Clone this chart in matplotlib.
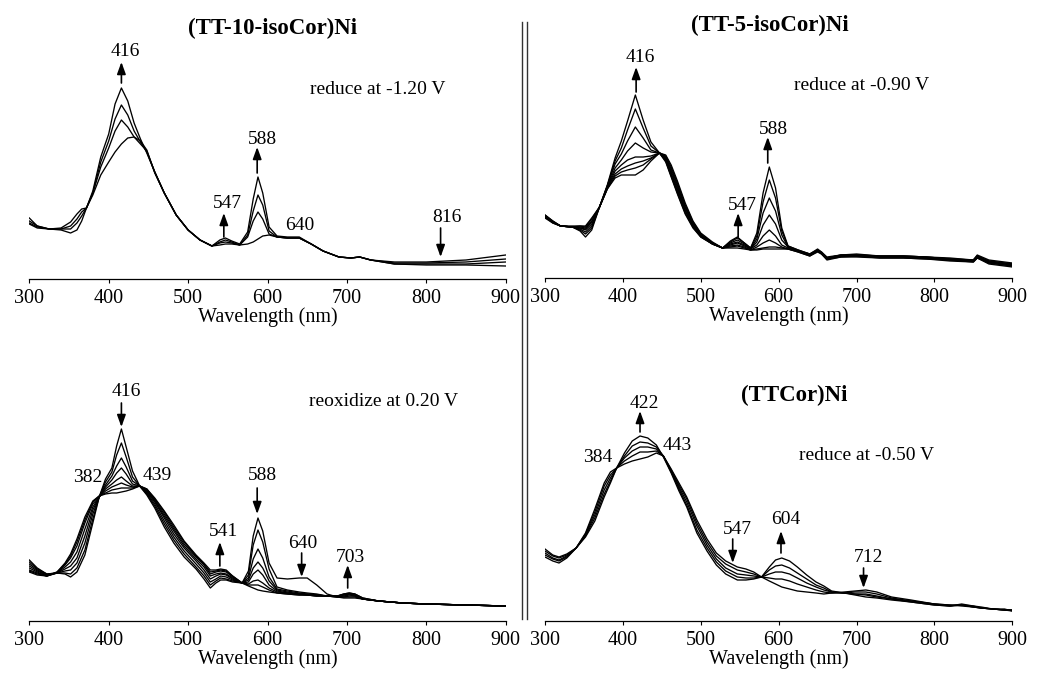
"""
Spektroelektrochemie der Ni-Corrole: UV-Vis-Spektren waehrend Reduktion/Reoxidation.
"""
import matplotlib
matplotlib.use("Agg")
import matplotlib.pyplot as plt
from matplotlib.lines import Line2D

plt.rcParams["font.family"] = ["Liberation Serif", "DejaVu Serif"]

# ── Daten (Absorption in willkuerlichen Einheiten) ───────────────────────────
wl_10iso = [300, 310, 325, 340, 352, 360, 366, 372, 380, 390, 400, 408, 416, 424, 432,
            440, 448, 458, 470, 485, 500, 515, 530, 540, 547, 555, 565, 575, 582, 588,
            594, 602, 612, 625, 640, 655, 670, 690, 705, 716, 730, 760, 800, 850, 900]
abs_10iso = [
    [58, 53, 50, 49, 46, 49, 58, 71, 84, 104, 117, 127, 135, 141, 142,
     138, 129, 106, 86, 64, 49, 39, 33, 34, 35, 35, 34, 35, 37, 40,
     43, 44, 42, 41, 41, 35, 28, 22, 21, 22, 19, 17, 17, 19, 24],
    [56, 52, 50, 50, 50, 56, 63, 71, 86, 112, 131, 148, 159, 152, 142,
     135, 128, 107, 86, 64, 49, 39, 33, 36, 37, 36, 34, 42, 58, 67,
     60, 45, 42, 41, 41, 35, 28, 22, 21, 22, 19, 16, 16, 17, 20],
    [55, 51, 50, 50, 53, 60, 67, 71, 86, 117, 138, 160, 174, 164, 148,
     137, 127, 107, 86, 64, 49, 39, 33, 37, 39, 37, 34, 44, 68, 84,
     74, 48, 42, 41, 41, 35, 28, 22, 21, 22, 19, 15, 15, 15, 17],
    [61, 53, 50, 51, 57, 65, 70, 71, 88, 122, 145, 175, 191, 178, 156,
     140, 126, 107, 86, 64, 49, 39, 33, 39, 41, 38, 35, 47, 80, 102,
     86, 52, 43, 42, 42, 35, 28, 22, 21, 22, 19, 15, 14, 14, 13],
]

wl_5iso = [300, 310, 320, 335, 345, 352, 360, 370, 380, 390, 398, 406, 416, 426, 436,
           447, 455, 462, 470, 480, 490, 500, 515, 528, 538, 547, 556, 564, 572, 580,
           588, 596, 604, 612, 625, 640, 650, 655, 662, 680, 700, 730, 760, 790, 820,
           850, 855, 870, 900]
abs_5iso = [
    [63, 57, 52, 51, 47, 41, 48, 71, 89, 100, 103, 103, 103, 108, 117,
     125, 123, 113, 97, 75, 57, 45, 36, 30, 30, 30, 29, 28, 28, 29,
     29, 29, 29, 29, 26, 22, 26, 24, 18, 21, 21, 20, 20, 19, 17,
     16, 20, 14, 11],
    [63, 57, 52, 51, 48, 44, 50, 71, 89, 102, 106, 108, 110, 113, 119,
     125, 122, 111, 95, 73, 56, 44, 35, 30, 31, 32, 30, 28, 29, 30,
     31, 31, 30, 29, 26, 22, 27, 24, 19, 21, 22, 20, 20, 19, 18,
     16, 20, 15, 12],
    [62, 56, 52, 51, 49, 46, 52, 71, 90, 104, 109, 112, 115, 117, 120,
     125, 121, 109, 93, 71, 55, 43, 35, 30, 32, 33, 31, 28, 31, 35,
     38, 35, 31, 29, 27, 23, 27, 25, 19, 22, 22, 21, 21, 20, 18,
     17, 21, 15, 12],
    [62, 56, 52, 51, 50, 48, 54, 71, 90, 107, 113, 118, 121, 121, 122,
     125, 120, 107, 91, 70, 54, 43, 35, 30, 33, 35, 32, 29, 33, 42,
     48, 42, 33, 30, 27, 23, 27, 25, 19, 22, 22, 21, 21, 20, 18,
     17, 21, 16, 13],
    [62, 56, 52, 51, 50, 49, 56, 71, 91, 110, 118, 127, 135, 130, 126,
     125, 119, 105, 89, 68, 53, 42, 34, 30, 34, 36, 33, 29, 36, 53,
     63, 54, 38, 31, 27, 23, 28, 25, 20, 22, 23, 21, 21, 20, 19,
     17, 22, 16, 13],
    [61, 56, 52, 51, 51, 50, 57, 71, 92, 114, 124, 137, 151, 140, 128,
     125, 118, 103, 87, 67, 52, 42, 34, 30, 35, 38, 34, 29, 39, 65,
     80, 67, 43, 31, 27, 24, 28, 25, 20, 23, 23, 22, 22, 21, 19,
     18, 22, 17, 14],
    [61, 55, 52, 51, 52, 51, 59, 71, 92, 117, 130, 148, 169, 150, 132,
     125, 117, 102, 85, 65, 51, 41, 34, 30, 36, 40, 35, 30, 42, 76,
     98, 80, 47, 32, 28, 24, 28, 26, 20, 23, 23, 22, 22, 21, 19,
     18, 22, 17, 14],
    [60, 55, 52, 52, 52, 52, 60, 71, 93, 120, 137, 157, 183, 158, 136,
     125, 116, 101, 84, 64, 50, 41, 34, 30, 37, 41, 35, 30, 45, 85,
     111, 90, 50, 32, 28, 24, 29, 26, 21, 23, 24, 22, 22, 21, 20,
     18, 23, 18, 15],
]

wl_reox = [300, 310, 322, 335, 345, 352, 360, 370, 380, 388, 396, 404, 410, 416, 422,
           430, 439, 448, 458, 470, 482, 495, 510, 520, 528, 535, 541, 548, 556, 568,
           576, 582, 588, 594, 602, 612, 625, 640, 650, 662, 675, 688, 696, 703, 710,
           720, 740, 770, 800, 850, 900]
abs_reox = [
    [61, 53, 47, 48, 47, 44, 49, 66, 98, 124, 142, 153, 175, 192, 174,
     150, 135, 126, 113, 94, 78, 64, 52, 42, 33, 38, 41, 41, 39, 38,
     50, 85, 103, 90, 58, 43, 42, 43, 43, 36, 27, 24, 23, 23, 23,
     22, 20, 18, 17, 16, 15],
    [59, 52, 47, 48, 48, 47, 53, 71, 102, 124, 139, 149, 166, 178, 164,
     144, 135, 127, 115, 97, 81, 67, 54, 45, 36, 40, 43, 42, 40, 38,
     46, 76, 91, 79, 52, 34, 31, 29, 28, 27, 25, 24, 24, 24, 24,
     22, 20, 18, 17, 16, 15],
    [57, 51, 46, 48, 50, 51, 58, 78, 107, 124, 136, 145, 155, 163, 154,
     140, 135, 128, 117, 100, 84, 70, 57, 48, 39, 42, 45, 44, 41, 38,
     43, 62, 72, 63, 44, 32, 30, 28, 27, 26, 25, 24, 24, 25, 25,
     22, 20, 18, 17, 16, 15],
    [55, 50, 46, 48, 52, 55, 63, 85, 111, 124, 134, 141, 148, 153, 147,
     137, 135, 129, 119, 103, 87, 73, 60, 51, 42, 45, 47, 46, 42, 38,
     41, 53, 59, 53, 40, 31, 29, 27, 27, 26, 25, 24, 25, 26, 25,
     22, 20, 18, 17, 16, 15],
    [53, 49, 45, 48, 54, 59, 69, 92, 114, 124, 132, 137, 141, 144, 140,
     135, 135, 130, 120, 105, 90, 75, 62, 54, 45, 47, 48, 47, 43, 38,
     39, 47, 51, 46, 36, 30, 28, 27, 26, 26, 25, 25, 26, 27, 26,
     22, 20, 18, 17, 16, 15],
    [51, 48, 45, 48, 56, 63, 75, 98, 117, 124, 130, 134, 136, 138, 136,
     134, 135, 131, 121, 107, 92, 77, 64, 56, 47, 49, 50, 49, 44, 38,
     37, 40, 41, 38, 33, 29, 28, 27, 26, 25, 25, 25, 26, 27, 26,
     22, 20, 18, 17, 16, 15],
    [50, 47, 45, 49, 57, 65, 79, 101, 119, 125, 128, 131, 132, 133, 133,
     133, 135, 132, 122, 109, 94, 79, 65, 57, 49, 50, 51, 50, 45, 38,
     36, 36, 36, 34, 31, 28, 27, 26, 26, 25, 25, 25, 27, 28, 27,
     23, 20, 18, 17, 16, 15],
    [49, 46, 45, 49, 58, 67, 82, 104, 120, 125, 127, 128, 128, 129, 130,
     132, 135, 132, 123, 110, 96, 80, 66, 58, 51, 51, 52, 51, 45, 38,
     35, 33, 31, 30, 29, 28, 27, 26, 26, 25, 25, 25, 27, 28, 27,
     23, 20, 18, 17, 16, 15],
]

wl_ttcor = [300, 310, 318, 328, 340, 352, 364, 376, 384, 392, 402, 412, 422, 432, 443,
            452, 462, 472, 482, 495, 508, 520, 532, 547, 558, 568, 578, 588, 596, 604,
            614, 624, 636, 648, 658, 668, 684, 698, 712, 726, 745, 770, 800, 820, 835,
            850, 860, 875, 890, 900]
abs_ttcor = [
    [64, 60, 58, 63, 73, 88, 112, 138, 149, 153, 157, 160, 162, 164, 168,
     165, 152, 138, 124, 101, 82, 68, 60, 54, 52, 49, 44, 40, 37, 34,
     32, 30, 29, 28, 27, 28, 29, 30, 31, 29, 24, 21, 17, 16, 15,
     14, 13, 12, 11, 11],
    [66, 62, 60, 64, 73, 87, 109, 135, 146, 153, 160, 165, 169, 169, 170,
     165, 151, 136, 122, 98, 79, 65, 57, 51, 49, 47, 44, 43, 42, 42,
     40, 37, 34, 31, 29, 28, 28, 29, 29, 27, 23, 20, 17, 16, 16,
     14, 13, 12, 11, 11],
    [68, 63, 61, 65, 73, 86, 106, 131, 143, 153, 163, 170, 174, 174, 172,
     165, 150, 134, 119, 95, 76, 62, 53, 47, 46, 45, 44, 47, 49, 49,
     47, 43, 38, 34, 31, 29, 28, 27, 27, 25, 22, 20, 17, 15, 16,
     15, 13, 12, 11, 11],
    [70, 65, 63, 66, 73, 85, 103, 127, 140, 153, 165, 175, 179, 178, 174,
     165, 149, 132, 116, 91, 73, 59, 50, 44, 43, 43, 44, 51, 55, 56,
     53, 48, 42, 36, 33, 29, 28, 27, 26, 24, 22, 19, 16, 15, 16,
     14, 13, 12, 11, 10],
    [72, 66, 64, 67, 73, 84, 100, 124, 138, 153, 168, 180, 185, 183, 176,
     164, 148, 130, 114, 88, 70, 56, 47, 41, 41, 42, 44, 54, 61, 63,
     60, 54, 46, 39, 35, 30, 28, 26, 24, 23, 21, 19, 16, 15, 17,
     15, 14, 12, 12, 10],
]

# Beschriftungen: (Text, x, y) und Pfeile: (x, y_start, y_ende)
panels = [
    dict(wl=wl_10iso, spectra=abs_10iso, box=(29.3, 505.7, 279, 10),
         title=("(TT-10-isoCor)Ni", 606, 251),
         cond=("reduce at -1.20 V", 739, 190),
         labels=[("416", 421, 227), ("588", 593, 139), ("547", 549, 76),
                 ("640", 640, 54), ("816", 826, 62)],
         arrows=[(416, 196, 217), (587, 106, 132), (545, 42, 66), (818, 51, 22)]),
    dict(wl=wl_5iso, spectra=abs_5iso, box=(545, 1012.3, 278, 10),
         title=("(TT-5-isoCor)Ni", 589, 253),
         cond=("reduce at -0.90 V", 707, 193),
         labels=[("416", 423, 220), ("588", 593, 149), ("547", 553, 73)],
         arrows=[(417, 186, 211), (586, 115, 141), (548, 41, 65)]),
    dict(wl=wl_reox, spectra=abs_reox, box=(29.3, 505.7, 621, 350),
         title=None,
         cond=("reoxidize at 0.20 V", 746, 219),
         labels=[("416", 422, 229), ("382", 374, 144), ("439", 461, 146),
                 ("588", 593, 146), ("541", 545, 89), ("640", 645, 78),
                 ("703", 705, 64)],
         arrows=[(416, 218, 194), (587, 133, 107), (540, 55, 79),
                 (643, 68, 44), (701, 33, 56)]),
    dict(wl=wl_ttcor, spectra=abs_ttcor, box=(545, 1012.3, 621, 350),
         title=("(TTCor)Ni", 620, 226),
         cond=("reduce at -0.50 V", 713, 166),
         labels=[("422", 428, 218), ("443", 470, 176), ("384", 368, 163),
                 ("547", 547, 91), ("604", 609, 101), ("712", 716, 64)],
         arrows=[(422, 189, 210), (541, 82, 58), (603, 68, 90), (709, 53, 33)]),
]

W, H = 1050, 684
fig = plt.figure(figsize=(W / 100, H / 100), dpi=100, facecolor="white")

for p in panels:
    x0, x1, axis_y, top_y = p["box"]
    ax = fig.add_axes([x0 / W, 1 - axis_y / H, (x1 - x0) / W, (axis_y - top_y) / H])
    for a in p["spectra"]:
        ax.plot(p["wl"], a, color="black", linewidth=0.95, solid_joinstyle="round")

    ax.set_xlim(300, 900)
    ax.set_ylim(0, axis_y - top_y)
    for side in ("top", "left", "right"):
        ax.spines[side].set_visible(False)
    ax.spines["bottom"].set_linewidth(0.9)
    ax.set_yticks([])
    ax.set_xticks(range(300, 1000, 100))
    ax.tick_params(axis="x", direction="out", length=3, width=0.8, labelsize=14.5, pad=4)
    ax.set_xlabel("Wavelength (nm)", fontsize=14.5, labelpad=0)

    if p["title"]:
        t, tx, ty = p["title"]
        ax.text(tx, ty, t, ha="center", va="center", fontsize=16.5, fontweight="bold")
    c, cx, cy = p["cond"]
    ax.text(cx, cy, c, ha="center", va="center", fontsize=14)
    for t, tx, ty in p["labels"]:
        ax.text(tx, ty, t, ha="center", va="center", fontsize=14)
    for ax_x, y0, y1 in p["arrows"]:
        ax.annotate("", xy=(ax_x, y1), xytext=(ax_x, y0),
                    arrowprops=dict(arrowstyle="-|>,head_length=0.36,head_width=0.13",
                                    color="black", lw=1.2, mutation_scale=20,
                                    shrinkA=0, shrinkB=0))

# doppelte Trennlinie zwischen linker und rechter Spalte
for xl in (522, 527):
    fig.add_artist(Line2D([xl / W, xl / W], [1 - 22 / H, 1 - 619 / H],
                          color="#333333", linewidth=1.0))

plt.savefig("out.png", dpi=100, facecolor="white")
plt.close(fig)
